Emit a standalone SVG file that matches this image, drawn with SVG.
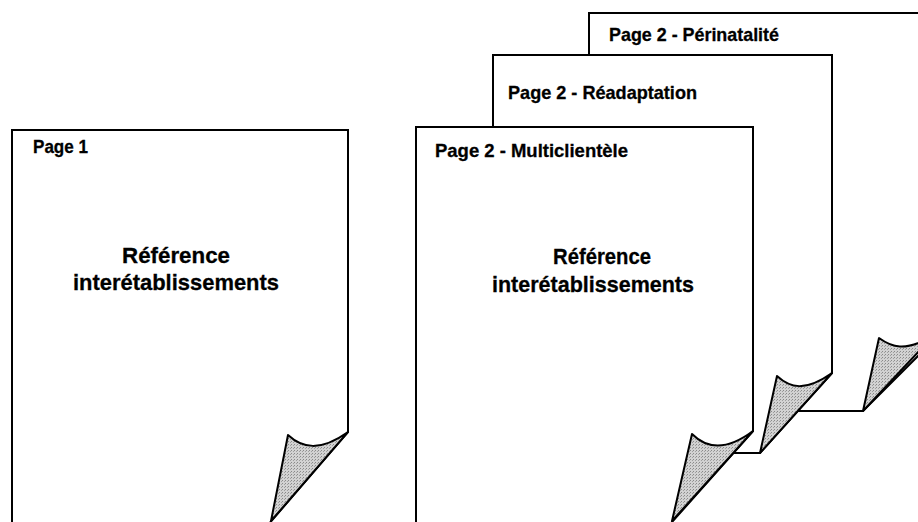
<svg xmlns="http://www.w3.org/2000/svg" width="918" height="522" viewBox="0 0 918 522">
<defs>
<pattern id="dots" width="3" height="3" patternUnits="userSpaceOnUse">
<rect width="3" height="3" fill="#d2d2d2"/>
<rect x="0" y="0" width="1" height="1" fill="#8a8a8a"/>
<rect x="2" y="1" width="1" height="1" fill="#a0a0a0"/>
</pattern>
</defs>
<style>
.page{fill:#fff;stroke:#000;stroke-width:2;stroke-linejoin:miter}
.curl{fill:url(#dots);stroke:#000;stroke-width:2;stroke-linejoin:round}
.lbl{font-family:"Liberation Sans",Arial,sans-serif;font-weight:bold;font-size:18.5px;fill:#000;stroke:#000;stroke-width:0.3}
.main{font-family:"Liberation Sans",Arial,sans-serif;font-weight:bold;font-size:22.5px;fill:#000;stroke:#000;stroke-width:0.3}
</style>
<rect width="918" height="522" fill="#fff"/>
<g id="page-perinatalite">
<path class="page" d="M589,13 H940 V334 L863,411 H589 Z"/>
<path class="curl" d="M935,334 C905,354 890,346 879,338 L863,411 Z"/>
<text class="lbl" x="609" y="41" textLength="170" lengthAdjust="spacingAndGlyphs">Page 2 - Périnatalité</text>
</g>
<g id="page-readaptation">
<path class="page" d="M493,55 H832 V373 L760,453 H493 Z"/>
<path class="curl" d="M832,373 C805,392 790,388 777,376 L760,453 Z"/>
<text class="lbl" x="508" y="99" textLength="189" lengthAdjust="spacingAndGlyphs">Page 2 - Réadaptation</text>
</g>
<g id="page-multiclientele">
<path class="page" d="M416,127 H753 V431 L656,540 H416 Z"/>
<path class="curl" d="M753,431 C725,452 706,448 692,434 L672,521 Z"/>
<text class="lbl" x="435" y="157" textLength="193" lengthAdjust="spacingAndGlyphs">Page 2 - Multiclientèle</text>
<text class="main" x="553" y="264" textLength="98" lengthAdjust="spacingAndGlyphs">Référence</text>
<text class="main" x="492" y="292" textLength="202" lengthAdjust="spacingAndGlyphs">interétablissements</text>
</g>
<g id="page-1">
<path class="page" d="M12,130 H348 V432 L255,540 H12 Z"/>
<path class="curl" d="M348,432 C320,452 302,448 288,435 L271,521 Z"/>
<text class="lbl" x="33" y="153" textLength="55" lengthAdjust="spacingAndGlyphs">Page 1</text>
<text class="main" x="122" y="263" textLength="108" lengthAdjust="spacingAndGlyphs">Référence</text>
<text class="main" x="73" y="290" textLength="206" lengthAdjust="spacingAndGlyphs">interétablissements</text>
</g>
<g id="connectors"></g>
</svg>
